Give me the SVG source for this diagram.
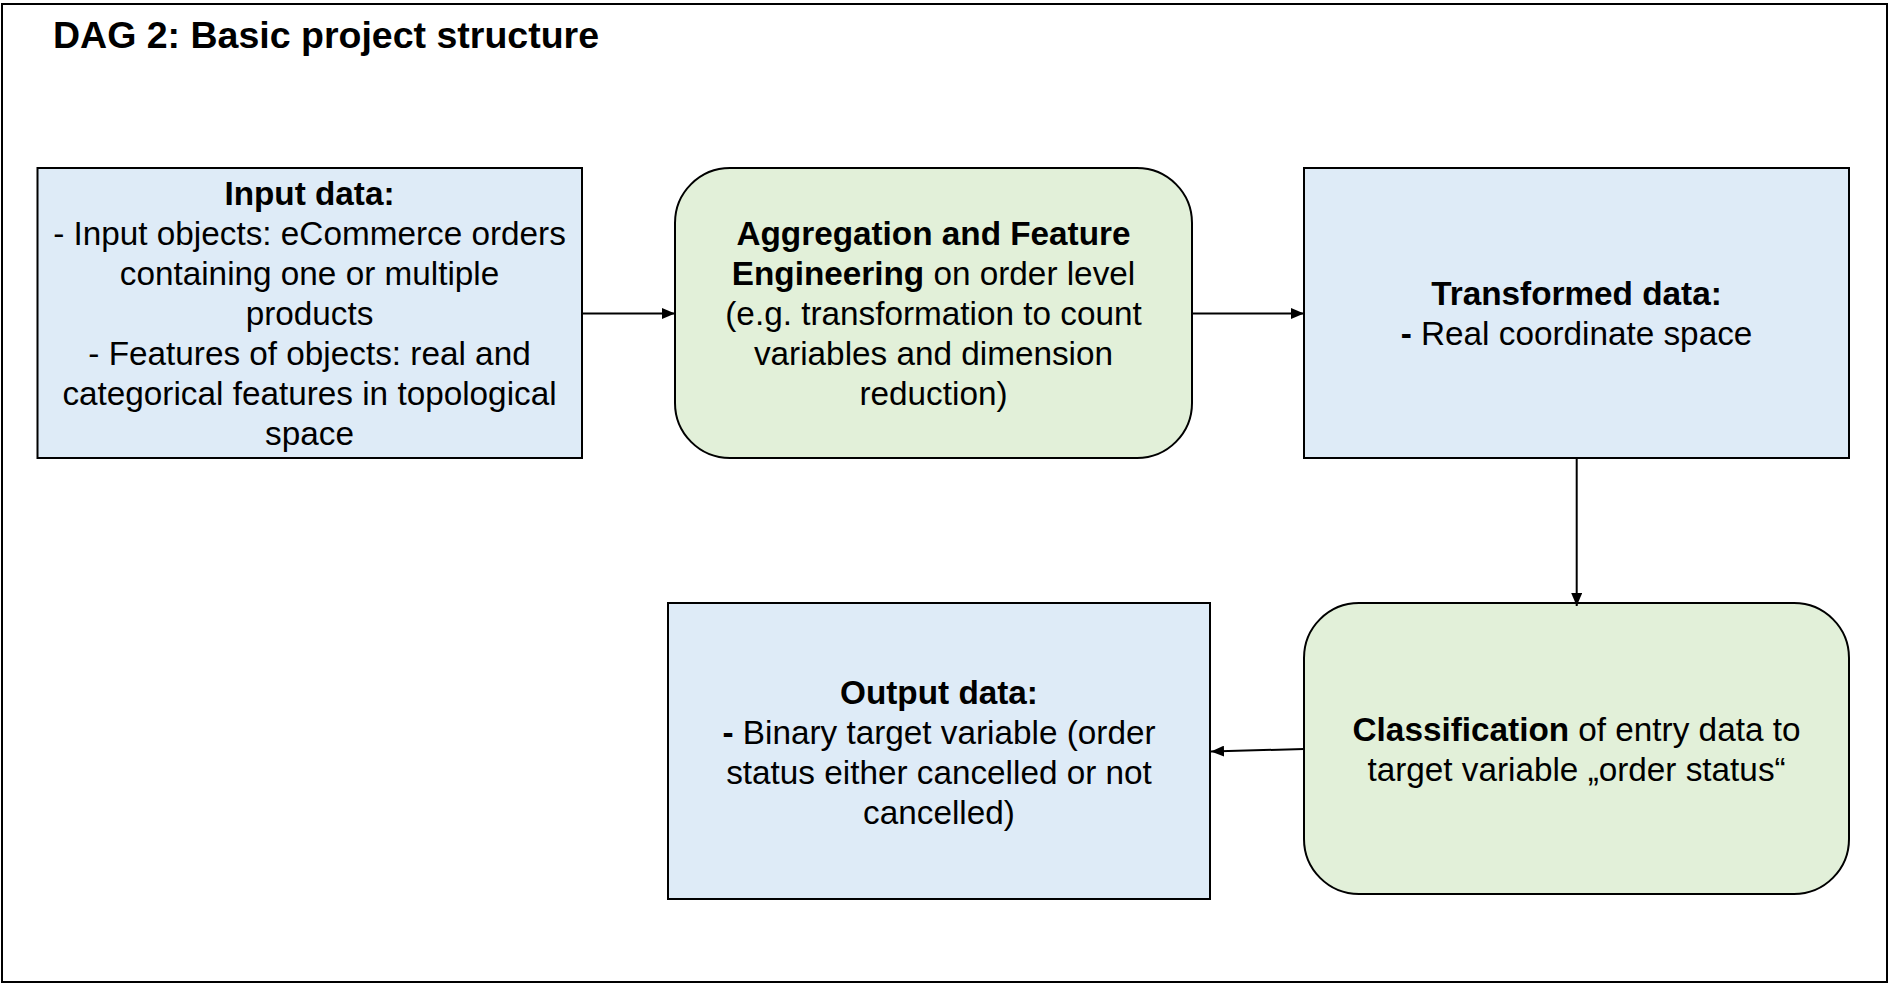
<svg xmlns="http://www.w3.org/2000/svg" width="1890" height="985" viewBox="0 0 1890 985">
  <defs>
    <style>
      text { font-family: "Liberation Sans", Arial, sans-serif; font-size: 33.3px; fill: #000; text-anchor: middle; }
      .b { font-weight: bold; }
      .title { font-size: 37.5px; font-weight: bold; text-anchor: start; }
      .blue { fill: #deebf7; stroke: #000; stroke-width: 2; }
      .green { fill: #e2f0d9; stroke: #000; stroke-width: 2; }
      .conn { fill: none; stroke: #000; stroke-width: 2; }
    </style>
    <marker id="arrow" viewBox="0 0 13 11" refX="13" refY="5.5" markerWidth="13" markerHeight="11" markerUnits="userSpaceOnUse" orient="auto">
      <path d="M0,0 L13,5.5 L0,11 Z" fill="#000"/>
    </marker>
  </defs>
  <rect x="0" y="0" width="1890" height="985" fill="#fff"/>
  <rect x="2" y="4" width="1885" height="978" fill="none" stroke="#000" stroke-width="2"/>
  <text class="title" x="53" y="48">DAG 2: Basic project structure</text>

  <g id="input">
    <rect class="blue" x="37.5" y="168" width="544.5" height="290"/>
    <text x="309.5" y="205" class="b">Input data:</text>
    <text x="309.5" y="245">- Input objects: eCommerce orders</text>
    <text x="309.5" y="285">containing one or multiple</text>
    <text x="309.5" y="325">products</text>
    <text x="309.5" y="365">- Features of objects: real and</text>
    <text x="309.5" y="405">categorical features in topological</text>
    <text x="309.5" y="445">space</text>
  </g>

  <g id="aggregation">
    <rect class="green" x="675" y="168" width="517" height="290" rx="55" ry="55"/>
    <text x="933.5" y="245" class="b">Aggregation and Feature</text>
    <text x="933.5" y="285"><tspan class="b">Engineering</tspan> on order level</text>
    <text x="933.5" y="325">(e.g. transformation to count</text>
    <text x="933.5" y="365">variables and dimension</text>
    <text x="933.5" y="405">reduction)</text>
  </g>

  <g id="transformed">
    <rect class="blue" x="1304" y="168" width="545" height="290"/>
    <text x="1576.5" y="305" class="b">Transformed data:</text>
    <text x="1576.5" y="345"><tspan class="b">-</tspan> Real coordinate space</text>
  </g>

  <g id="classification">
    <rect class="green" x="1304" y="603" width="545" height="291" rx="55" ry="55"/>
    <text x="1576.5" y="741"><tspan class="b">Classification</tspan> of entry data to</text>
    <text x="1576.5" y="781">target variable „order status“</text>
  </g>

  <g id="output">
    <rect class="blue" x="668" y="603" width="542" height="296"/>
    <text x="939" y="704" class="b">Output data:</text>
    <text x="939" y="744"><tspan class="b">-</tspan> Binary target variable (order</text>
    <text x="939" y="784">status either cancelled or not</text>
    <text x="939" y="824">cancelled)</text>
  </g>

  <g id="connectors">
    <line class="conn" x1="582" y1="313.5" x2="675" y2="313.5" marker-end="url(#arrow)"/>
    <line class="conn" x1="1192" y1="313.5" x2="1304" y2="313.5" marker-end="url(#arrow)"/>
    <line class="conn" x1="1576.7" y1="458" x2="1576.7" y2="606" marker-end="url(#arrow)"/>
    <line class="conn" x1="1304" y1="749" x2="1211" y2="751.5" marker-end="url(#arrow)"/>
  </g>
</svg>
